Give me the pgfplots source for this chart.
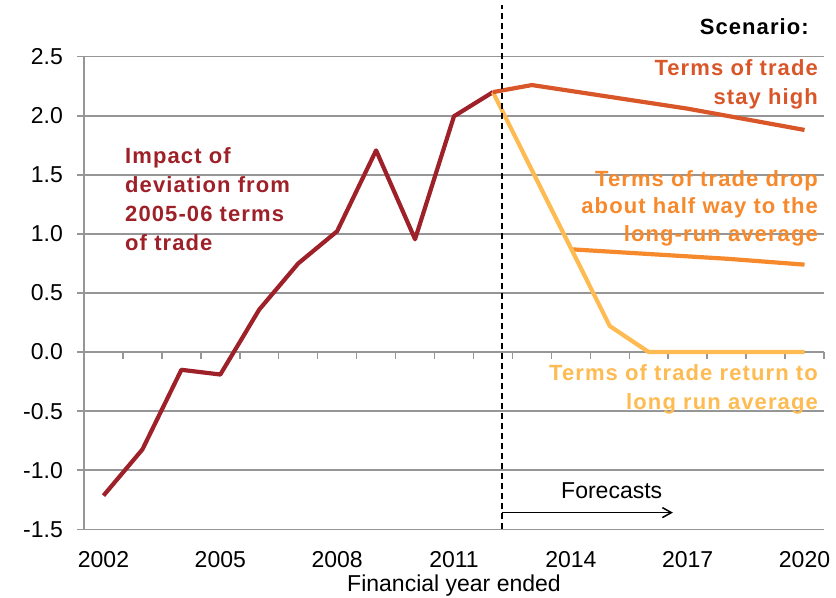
\documentclass[border=0pt]{standalone}
\usepackage{fontspec}
\setmainfont{Liberation Sans}
\usepackage{pgfplots}
\pgfplotsset{compat=1.18}
\usetikzlibrary{arrows.meta}
\definecolor{cRed}{RGB}{158,32,40}
\definecolor{cHigh}{RGB}{217,86,41}
\definecolor{cHalf}{RGB}{247,137,45}
\definecolor{cRet}{RGB}{253,187,81}
\definecolor{cGrid}{RGB}{150,150,150}
\newcommand\bfs{\fontsize{22bp}{26bp}\selectfont\bfseries\addfontfeatures{LetterSpace=5}}
\newcommand\rgs{\fontsize{23bp}{27bp}\selectfont}
\begin{document}
\begin{tikzpicture}
\useasboundingbox (-84bp,-68.7bp) rectangle (752bp,529.3bp);
% x = year - 2000
\begin{axis}[
  width=740bp, height=472.6bp, scale only axis,
  xmin=1.5, xmax=20.5, ymin=-1.5, ymax=2.5,
  axis x line=bottom, axis y line=left,
  axis line style={-, draw=cGrid, line width=1.5bp},
  xtick={2,5,8,11,14,17,20}, xticklabels={2002,2005,2008,2011,2014,2017,2020},
  ytick={-1.5,-1,-0.5,0,0.5,1,1.5,2,2.5},
  x tick style={draw=none},
  tick align=outside, major tick length=7bp,
  y tick style={draw=cGrid, line width=1.5bp},
  ymajorgrids, grid style={draw=cGrid, line width=1.5bp},
  /pgf/number format/assume math mode=true,
  yticklabel style={/pgf/number format/fixed, /pgf/number format/fixed zerofill, /pgf/number format/precision=1, inner sep=0pt, xshift=-14bp},
  xticklabel style={inner sep=0pt, yshift=-14.7bp},
  ticklabel style={font=\rgs},
  clip=false,
]
\pgfplotsinvokeforeach{1.5,2.5,3.5,4.5,5.5,6.5,7.5,8.5,9.5,10.5,11.5,12.5,13.5,14.5,15.5,16.5,17.5,18.5,19.5,20.5}{
  \draw[cGrid, line width=1.5bp] (axis cs:#1,0) -- ([yshift=-7bp]axis cs:#1,0);
}
\addplot[cRed, line width=4.2bp, line join=round] coordinates {
 (2,-1.215) (3,-0.824) (4,-0.15) (5,-0.19) (6,0.36) (7,0.75)
 (8,1.023) (9,1.707) (10,0.955) (11,1.996) (12,2.2)};
\addplot[cHalf, line width=4.2bp, line join=round] coordinates {
 (14,0.87) (15,0.85) (16,0.83) (17,0.81) (18,0.79) (19,0.765) (20,0.74)};
\addplot[cRet, line width=4.2bp, line join=round] coordinates {
 (12,2.2) (13,1.54) (14,0.88) (15,0.22) (16,0) (17,0) (18,0) (19,0) (20,0)};
\addplot[cHigh, line width=4.2bp, line join=round] coordinates {
 (12,2.2) (13,2.26) (14,2.21) (15,2.16) (16,2.11) (17,2.06) (18,2.0) (19,1.94) (20,1.88)};
\draw[black, line width=2bp, dash pattern=on 6bp off 4bp] (axis cs:12.22,-1.5) -- ([yshift=52bp]axis cs:12.22,2.5);
\draw[black, line width=1.5bp, -{Straight Barb[length=9bp,width=10bp]}] ([yshift=16.7bp]axis cs:12.22,-1.5) -- ([yshift=16.7bp]axis cs:16.62,-1.5);
\end{axis}
\node[anchor=base east, inner sep=0pt, font=\bfs] at (725bp,494.3bp) {Scenario:};
\node[anchor=base east, inner sep=0pt, font=\bfs, text=cHigh] at (734bp,453.3bp) {Terms of trade};
\node[anchor=base east, inner sep=0pt, font=\bfs, text=cHigh] at (734bp,424.5bp) {stay high};
\node[anchor=base east, inner sep=0pt, font=\bfs, text=cHalf] at (734bp,342.6bp) {Terms of trade drop};
\node[anchor=base east, inner sep=0pt, font=\bfs, text=cHalf] at (734bp,315.3bp) {about half way to the};
\node[anchor=base east, inner sep=0pt, font=\bfs, text=cHalf] at (734bp,287.3bp) {long-run average};
\node[anchor=base east, inner sep=0pt, font=\bfs, text=cRet] at (734bp,148.3bp) {Terms of trade return to};
\node[anchor=base east, inner sep=0pt, font=\bfs, text=cRet] at (734bp,119.6bp) {long run average};
\node[anchor=base west, inner sep=0pt, font=\bfs, text=cRed] at (41bp,366bp) {Impact of};
\node[anchor=base west, inner sep=0pt, font=\bfs, text=cRed] at (41bp,337bp) {deviation from};
\node[anchor=base west, inner sep=0pt, font=\bfs, text=cRed] at (41bp,308bp) {2005-06 terms};
\node[anchor=base west, inner sep=0pt, font=\bfs, text=cRed] at (41bp,279bp) {of trade};
\node[anchor=base, inner sep=0pt, font=\rgs] at (527.7bp,30.3bp) {Forecasts};
\node[anchor=base, inner sep=0pt, font=\rgs] at (370bp,-61.7bp) {Financial year ended};
\end{tikzpicture}
\end{document}
